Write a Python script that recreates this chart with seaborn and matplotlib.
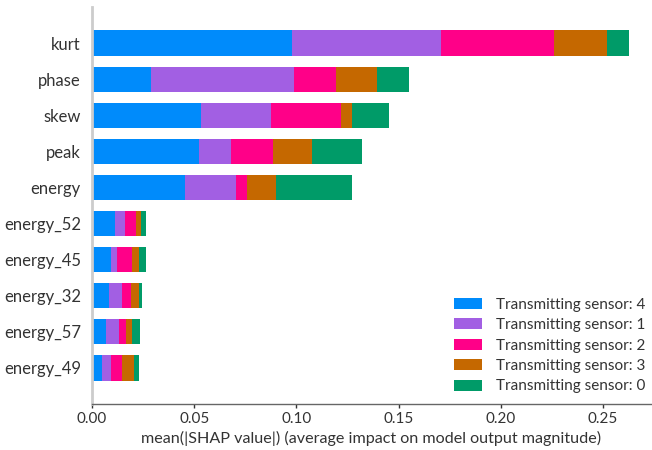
import matplotlib
matplotlib.use("Agg")
import matplotlib.pyplot as plt
from matplotlib.patches import Patch
import numpy as np
import pandas as pd
import seaborn as sns

# Features, ordered by overall importance (top to bottom)
features = ["kurt", "phase", "skew", "peak", "energy",
            "energy_52", "energy_45", "energy_32", "energy_57", "energy_49"]

# Mean |SHAP| contribution of each transmitting sensor, per feature
sensor_4 = [0.0977, 0.0289, 0.0532, 0.0523, 0.0457, 0.0112, 0.0093, 0.0083, 0.0067, 0.0049]
sensor_1 = [0.0730, 0.0701, 0.0342, 0.0157, 0.0248, 0.0049, 0.0028, 0.0062, 0.0065, 0.0044]
sensor_2 = [0.0552, 0.0204, 0.0346, 0.0206, 0.0053, 0.0053, 0.0075, 0.0046, 0.0033, 0.0052]
sensor_3 = [0.0262, 0.0200, 0.0050, 0.0189, 0.0141, 0.0027, 0.0034, 0.0037, 0.0031, 0.0060]
sensor_0 = [0.0106, 0.0155, 0.0185, 0.0244, 0.0375, 0.0023, 0.0034, 0.0017, 0.0040, 0.0026]

series_labels = ["Transmitting sensor: 4", "Transmitting sensor: 1",
                 "Transmitting sensor: 2", "Transmitting sensor: 3",
                 "Transmitting sensor: 0"]
series_values = [sensor_4, sensor_1, sensor_2, sensor_3, sensor_0]
series_colors = ["#008bfb", "#a25fe3", "#ff0088", "#c56800", "#009b68"]

sns.set_theme(style="white")
plt.rcParams["font.family"] = ["Lato", "DejaVu Sans"]

fig = plt.figure(figsize=(6.52, 4.5), dpi=100)
ax = fig.add_axes([92 / 652, 1 - 404 / 450, (651 - 92) / 652, (404 - 7) / 450])

# Stacked bars: draw cumulative totals from the widest down so each
# segment shows the contribution of one sensor.
cum = np.cumsum(np.array(series_values), axis=0)
for i in range(len(series_values) - 1, -1, -1):
    df = pd.DataFrame({"feature": features, "value": cum[i]})
    sns.barplot(data=df, x="value", y="feature", order=features,
                orient="h", color=series_colors[i], saturation=1,
                width=0.7, linewidth=0, ax=ax, errorbar=None)

ax.set_xlim(0, 0.2735)
ax.set_ylim(len(features), -1)
ax.set_xticks([0.0, 0.05, 0.10, 0.15, 0.20, 0.25])
ax.set_xticklabels(["0.00", "0.05", "0.10", "0.15", "0.20", "0.25"])
ax.set_xlabel("mean(|SHAP value|) (average impact on model output magnitude)",
              fontsize=11.6, color="#333333", labelpad=3)
ax.set_ylabel("")

ax.tick_params(axis="x", labelsize=11, labelcolor="#333333", color="#333333",
               length=3, width=1, bottom=True, pad=3)
ax.tick_params(axis="y", labelsize=12, labelcolor="#333333", length=0, pad=8)

for side in ["top", "right"]:
    ax.spines[side].set_visible(False)
ax.spines["left"].set_color("#cccccc")
ax.spines["left"].set_linewidth(2)
ax.spines["bottom"].set_color("#666666")
ax.spines["bottom"].set_linewidth(1)

handles = [Patch(facecolor=c, edgecolor="none", label=l)
           for c, l in zip(series_colors, series_labels)]
ax.legend(handles=handles, loc="lower right", frameon=False, fontsize=11,
          labelcolor="#333333", bbox_to_anchor=(1.014, -0.008),
          handlelength=1.85, handleheight=0.75, handletextpad=0.9,
          labelspacing=0.42)

fig.savefig("out.png", dpi=100)
